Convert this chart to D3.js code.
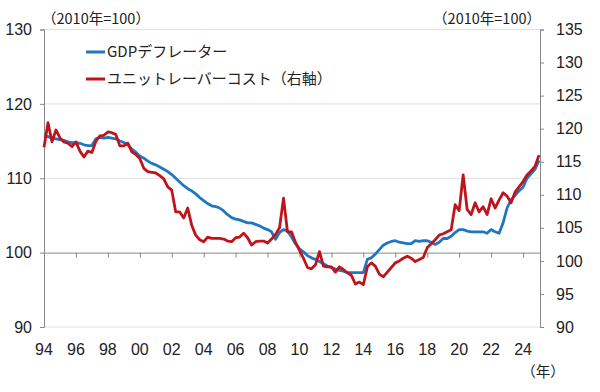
<!DOCTYPE html>
<html><head><meta charset="utf-8">
<script src="https://cdn.jsdelivr.net/npm/d3@7"></script>
<style>
html,body{margin:0;padding:0;background:#fff;}
svg text{font-family:"Liberation Sans","Noto Sans CJK JP",sans-serif;fill:#222;}
.jp{font-family:"Noto Sans CJK JP",sans-serif;}
</style></head><body>
<svg id="c" width="600" height="392"></svg>
<script>
// quarterly data, 1994Q1 .. 2025Q1 (2010 = 100)
const startYear = 1994;
const gdpDeflator = [
115.8,115.6,115.4,115.3, 115.2,115.1,114.9,114.8, 114.8,114.7,114.5,114.4, 114.4,115.3,115.5,115.4,
115.5,115.4,115.3,115.0, 114.8,114.5,113.9,113.5, 113.0,112.7,112.3,112.0, 111.8,111.5,111.2,110.9,
110.5,110.0,109.5,109.0, 108.6,108.3,107.9,107.4, 107.0,106.6,106.3,106.2, 106.0,105.6,105.1,104.7,
104.5,104.4,104.2,104.0, 104.0,103.8,103.6,103.3, 103.1,102.8,101.8,102.7, 103.1,102.9,102.1,101.2,
100.5,100.1,99.6,99.3, 99.1,98.8,98.5,98.2, 98.0,97.8,97.6,97.5, 97.3,97.3,97.3,97.3,
97.3,99.1,99.3,99.8, 100.4,101.0,101.3,101.5, 101.6,101.4,101.3,101.2, 101.2,101.6,101.5,101.6,
101.6,101.4,101.1,101.4, 101.9,101.9,102.2,102.7, 103.1,103.1,102.9,102.8, 102.8,102.8,102.8,102.6,
103.1,102.8,102.6,104.0, 106.0,107.1,107.7,108.3, 108.8,110.0,110.6,111.2, 112.4
];
const unitLaborCost = [
117.2,120.9,118.0,119.8, 118.6,118.0,117.8,117.3, 118.0,116.6,115.7,116.6, 116.4,118.1,118.9,119.0,
119.5,119.4,119.1,117.4, 117.4,117.8,116.5,116.1, 115.5,114.0,113.5,113.4, 113.3,112.9,112.4,111.2,
110.7,107.4,107.4,106.5, 108.0,105.4,103.9,103.2, 102.9,103.6,103.4,103.4, 103.4,103.3,103.0,102.9,
103.5,103.6,104.2,103.5, 102.4,102.9,103.0,103.0, 102.7,103.3,104.0,105.0, 109.5,104.4,104.4,102.8,
101.6,100.4,99.0,98.8, 99.4,101.4,99.2,99.1, 99.1,98.3,99.1,98.7, 98.2,97.8,96.5,96.8,
96.4,99.1,99.7,99.2, 98.0,97.6,98.3,99.0, 99.7,100.0,100.4,100.7, 100.4,99.9,100.2,100.5,
102.0,102.6,103.2,103.9, 104.1,104.4,104.7,108.5, 107.6,113.0,107.8,107.0, 108.8,107.4,108.2,107.0,
109.4,108.0,109.2,110.3, 109.8,108.8,110.4,111.2, 112.0,113.0,113.6,114.3, 116.0
];
const xTickYears = [1994,1996,1998,2000,2002,2004,2006,2008,2010,2012,2014,2016,2018,2020,2022,2024];
const xTickLabels = ["94","96","98","00","02","04","06","08","10","12","14","16","18","20","22","24"];
const leftTicks = [90,100,110,120,130];
const rightTicks = [90,95,100,105,110,115,120,125,130,135];
const seriesNames = ["GDPデフレーター","ユニットレーバーコスト（右軸）"];
const unitLabel = "（2010年=100）";
const yearLabel = "（年）";

const svg = d3.select("#c");
const L = 44, R = 540, T = 29.5, B = 327;
const x = d3.scaleLinear().domain([1994, 2025.0625]).range([L, R]);
const yL = d3.scaleLinear().domain([90,130]).range([B, T]);
const yR = d3.scaleLinear().domain([90,135]).range([B, T]);
const tq = i => startYear + i/4;

// gridlines
svg.append("g").selectAll("line").data(leftTicks.filter(d=>d!==100)).join("line")
  .attr("x1",L).attr("x2",R).attr("y1",d=>yL(d)).attr("y2",d=>yL(d))
  .attr("stroke","#e0e0e0").attr("stroke-width",1);

// left axis
const gL = svg.append("g").attr("transform",`translate(${L},0)`)
  .call(d3.axisLeft(yL).tickValues(leftTicks).tickSize(4).tickPadding(8));
gL.select(".domain").attr("stroke","#888");
gL.selectAll(".tick line").attr("stroke","#888");
gL.selectAll("text").attr("font-size",16).style("fill","#222");

// right axis
const gR = svg.append("g").attr("transform",`translate(${R},0)`)
  .call(d3.axisRight(yR).tickValues(rightTicks).tickSize(4).tickPadding(12));
gR.select(".domain").attr("stroke","#888");
gR.selectAll(".tick line").attr("stroke","#888");
gR.selectAll("text").attr("font-size",16).style("fill","#222");

// x axis along the 100 line
const gX = svg.append("g").attr("transform",`translate(0,${yL(100)})`)
  .call(d3.axisBottom(x).tickValues(xTickYears).tickSize(5).tickFormat(""));
gX.select(".domain").attr("stroke","#888");
gX.selectAll(".tick line").attr("stroke","#888");

// x labels at bottom
svg.append("g").selectAll("text").data(xTickYears).join("text")
  .attr("x",d=>x(d)).attr("y",349).attr("dy","0.35em").attr("text-anchor","middle")
  .attr("font-size",16).text((d,i)=>xTickLabels[i]);

// lines
const lineL = d3.line().x((d,i)=>x(tq(i))).y(d=>yL(d));
const lineR = d3.line().x((d,i)=>x(tq(i))).y(d=>yR(d));
const blue = "#1f77c4", red = "#c0141c";
svg.append("path").datum(gdpDeflator).attr("d",lineL).attr("fill","none")
  .attr("stroke",blue).attr("stroke-width",2.8).attr("stroke-linejoin","round");
svg.append("path").datum(unitLaborCost).attr("d",lineR).attr("fill","none")
  .attr("stroke",red).attr("stroke-width",2.8).attr("stroke-linejoin","round");

// legend
const leg = [{c:blue,y:52},{c:red,y:79}];
leg.forEach((l,i)=>{
  svg.append("line").attr("x1",86).attr("x2",105).attr("y1",l.y).attr("y2",l.y)
    .attr("stroke",l.c).attr("stroke-width",3);
  svg.append("text").attr("class","jp").attr("x",107).attr("y",l.y).attr("dy","0.35em")
    .attr("font-size",15).text(seriesNames[i]);
});

// unit labels
svg.append("text").attr("class","jp").attr("x",42).attr("y",19).attr("dy","0.35em")
  .attr("font-size",14.5).text(unitLabel);
svg.append("text").attr("class","jp").attr("x",541).attr("y",19).attr("dy","0.35em")
  .attr("text-anchor","end").attr("font-size",14.5).text(unitLabel);
svg.append("text").attr("class","jp").attr("x",543).attr("y",372).attr("dy","0.35em")
  .attr("text-anchor","middle").attr("font-size",14.5).text(yearLabel);
</script>
</body></html>
